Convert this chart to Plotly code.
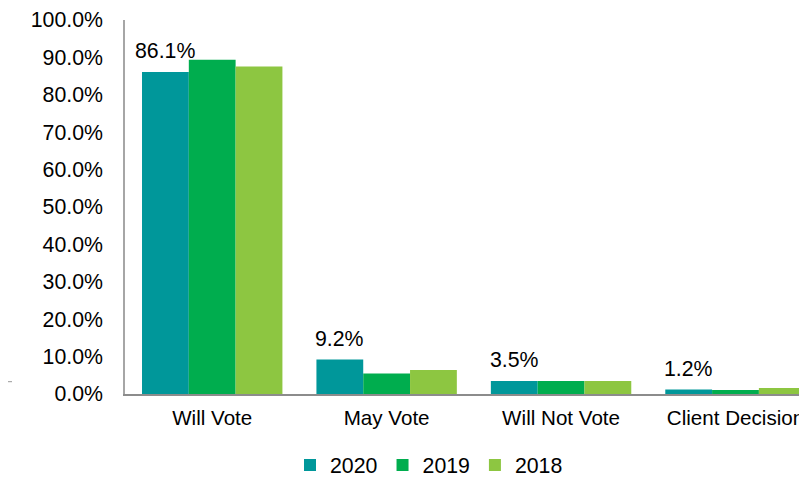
import plotly.graph_objects as go

categories = ["Will Vote", "May Vote", "Will Not Vote", "Client Decision"]
years = ["2020", "2019", "2018"]
values_2020 = [86.1, 9.2, 3.5, 1.2]
values_2019 = [89.4, 5.5, 3.5, 1.1]
values_2018 = [87.6, 6.4, 3.5, 1.6]
colors = ["#00979A", "#00AD4E", "#8DC641"]
yticks = [0, 10, 20, 30, 40, 50, 60, 70, 80, 90, 100]

series = [values_2020, values_2019, values_2018]
FONT = "Liberation Sans, Arial, sans-serif"
FS = 21.3

fig = go.Figure()
for name, vals, col in zip(years, series, colors):
    fig.add_trace(go.Bar(x=categories, y=vals, name=name, marker=dict(color=col, line=dict(width=0))))

# page body has an 8px margin, so the figure is sized/offset to compensate
W, H = 799, 471
ml, mr, mt, mb = 117, 0, 12, 85
plot_w = W - ml - mr
plot_h = H - mt - mb
xr = [-0.5, 3.41]
px_per_cat = plot_w / (xr[1] - xr[0])
bargap = 0.195
bar_px = px_per_cat * (1 - bargap) / 3

# Data labels for the 2020 series (first bar of each group)
for c, v in zip(categories, values_2020):
    fig.add_annotation(x=c, y=v, text=f"{v:.1f}%", showarrow=False,
                       xanchor="center", yanchor="bottom", xshift=-bar_px, yshift=7,
                       font=dict(family=FONT, size=FS, color="#000000"))

# small stray dash at far left
fig.add_shape(type="line", xref="paper", yref="paper",
              x0=-ml / plot_w, x1=(-ml + 4) / plot_w,
              y0=12.3 / plot_h, y1=12.3 / plot_h,
              line=dict(color="#999999", width=1))

fig.update_layout(
    template="none",
    width=W, height=H,
    margin=dict(l=ml, r=mr, t=mt, b=mb, autoexpand=False),
    barmode="group", bargap=bargap, bargroupgap=0,
    plot_bgcolor="white", paper_bgcolor="white",
    font=dict(family=FONT, size=FS, color="#000000"),
    showlegend=True,
    legend=dict(orientation="h", x=(282 - ml) / plot_w, xanchor="left", y=-0.19, yanchor="middle",
                font=dict(family=FONT, size=FS, color="#000000"),
                traceorder="normal", itemwidth=30, bgcolor="rgba(0,0,0,0)"),
    xaxis=dict(range=xr, showline=True, linecolor="#8C8C8C", linewidth=1.5, automargin=False,
               ticks="", showgrid=False, zeroline=False, ticklabelstandoff=5,
               tickfont=dict(family=FONT, size=20.6, color="#000000")),
    yaxis=dict(range=[0, 100], tickvals=yticks, ticktext=[f"{t:.1f}%" for t in yticks],
               showline=True, linecolor="#A6A6A6", linewidth=1.5, showgrid=False, automargin=False,
               zeroline=False, ticks="", ticklabelstandoff=16,
               tickfont=dict(family=FONT, size=FS, color="#000000")),
)

fig.write_html("out.html")
